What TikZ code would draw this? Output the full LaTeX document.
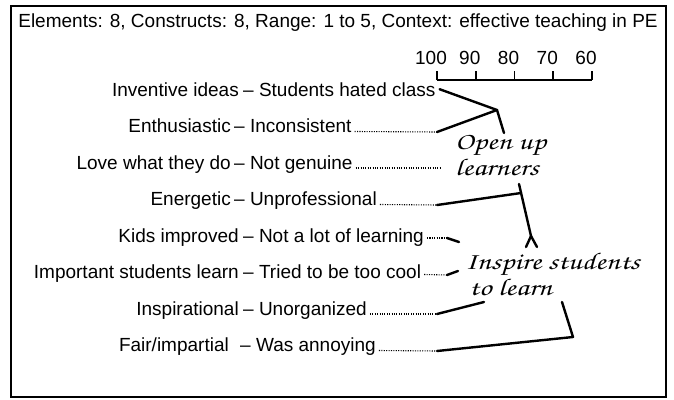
\documentclass[tikz,border=0pt]{standalone}
\usepackage[T1]{fontenc}
\usepackage{fontspec}
\setmainfont{Liberation Sans}
\newcommand{\handfont}{\fontencoding{T1}\fontfamily{pzc}\fontseries{mb}\fontshape{it}\selectfont}
\newcommand{\widehand}[1]{\scalebox{1.28}[1]{#1}}
\tikzset{
    pole/.style={inner sep=0pt, font=\fontsize{19}{22}\selectfont},
    leader/.style={line width=1.1pt, dash pattern=on 1.1pt off 1.3pt},
    branch/.style={line width=2.4pt, line cap=round, line join=round},
    cluster/.style={inner sep=0pt, align=left, font=\fontsize{24}{20}\handfont},
}
\begin{document}
\begin{tikzpicture}[x=1pt, y=-1pt]
        \useasboundingbox (0,0) rectangle (674,399);
        \draw[line width=1.7pt] (11,6) rectangle (666,397);
        \node[pole] (title) at (338,23) {Elements: 8, Constructs: 8, Range: 1 to 5, Context: effective teaching in PE};

        % similarity scale
        \foreach \v [count=\i from 0] in {100,90,80,70,60}
        {
            \coordinate (t\v) at (437+38.75*\i, 80);
            \node[pole, anchor=south] (s\v) at (431+38.75*\i, 65) {\v};
            \draw[line width=1.6pt] (t\v) -- ++(0,-9);
        }
        \draw[line width=1.6pt] (t100) -- (t60);

        % constructs
        \node[pole, anchor=base east] (l1) at (239,96)    {Inventive ideas};
        \node[pole, anchor=base west] (r1) at (243,96)    {– Students hated class};
        \node[pole, anchor=base east] (l2) at (231,132.5) {Enthusiastic};
        \node[pole, anchor=base west] (r2) at (234,132.5) {– Inconsistent};
        \node[pole, anchor=base east] (l3) at (231,169)   {Love what they do};
        \node[pole, anchor=base west] (r3) at (234,169)   {– Not genuine};
        \node[pole, anchor=base east] (l4) at (231,205.5) {Energetic};
        \node[pole, anchor=base west] (r4) at (234,205.5) {– Unprofessional};
        \node[pole, anchor=base east] (l5) at (239,242)   {Kids improved};
        \node[pole, anchor=base west] (r5) at (243,242)   {– Not a lot of learning};
        \node[pole, anchor=base east] (l6) at (239,278.5) {Important students learn};
        \node[pole, anchor=base west] (r6) at (243,278.5) {– Tried to be too cool};
        \node[pole, anchor=base east] (l7) at (239,315)   {Inspirational};
        \node[pole, anchor=base west] (r7) at (243,315)   {– Unorganized};
        \node[pole, anchor=base east] (l8) at (229,351.5) {Fair/impartial};
        \node[pole, anchor=base west] (r8) at (240,351.5) {– Was annoying};

        % clusters
        \node[cluster, anchor=base west] (open) at (455,175) {\widehand{Open up}\\\widehand{learners}};
        \node[cluster, anchor=base west] (inspire) at (465,295) {\widehand{Inspire students}\\\hspace{4pt}\widehand{to learn}};

        \coordinate (j1) at (497,110);
        \coordinate (o1) at (504,133);
        \coordinate (d2) at (437,132);
        \coordinate (d3) at (440,168);
        \coordinate (d4) at (437,205);
        \coordinate (j2) at (521,193);
        \coordinate (s2a) at (519,184);
        \coordinate (s2b) at (531,236);
        \coordinate (s2l) at (526,247);
        \coordinate (s2r) at (537,247);
        \coordinate (d5) at (447,238);
        \coordinate (e5) at (459,242);
        \coordinate (d6) at (447,275);
        \coordinate (e6) at (458,271);
        \coordinate (d7) at (437,314);
        \coordinate (e7) at (484,302);
        \coordinate (d8) at (437,351);
        \coordinate (j4) at (573,337);
        \coordinate (e8) at (562,302);

        \draw[branch] ([xshift=4pt]r1.east) -- (j1) -- (o1);
        \draw[leader] ([xshift=3pt, yshift=1pt]r2.base east) -- (d2);
        \draw[branch] (d2) -- (j1);
        \draw[leader] ([xshift=3pt, yshift=1pt]r3.base east) -- (d3);
        \draw[leader] ([xshift=3pt, yshift=1pt]r4.base east) -- (d4);
        \draw[branch] (d4) -- (j2);
        \draw[branch] (s2a) -- (s2b);
        \draw[branch] (s2l) -- (s2b) -- (s2r);
        \draw[leader] ([xshift=3pt, yshift=4pt]r5.base east) -- (d5);
        \draw[branch] (d5) -- (e5);
        \draw[leader] ([xshift=3pt, yshift=4pt]r6.base east) -- (d6);
        \draw[branch] (d6) -- (e6);
        \draw[leader] ([xshift=3pt, yshift=1pt]r7.base east) -- (d7);
        \draw[branch] (d7) -- (e7);
        \draw[leader] ([xshift=3pt, yshift=1pt]r8.base east) -- (d8);
        \draw[branch] (d8) -- (j4) -- (e8);
\end{tikzpicture}
\end{document}
